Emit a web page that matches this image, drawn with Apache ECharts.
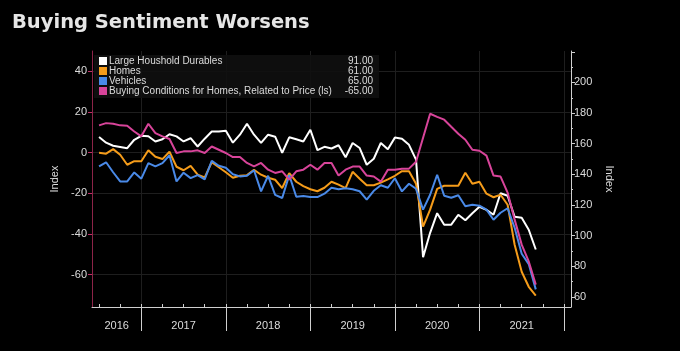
<!DOCTYPE html>
<html>
<head>
<meta charset="utf-8">
<script src="https://cdn.jsdelivr.net/npm/echarts@6/dist/echarts.min.js"></script>
<style>
    html, body { margin: 0; padding: 0; background: #000; }
    #sentimentDiv { width: 680px; height: 351px; }
</style>
</head>
<body>
<div id="sentimentDiv"></div>
<script>
// months shown on the axis: Jun 2016 .. Feb 2022
var monthList = [];
for (var yr = 2016; yr <= 2022; yr++) {
    for (var mo = 1; mo <= 12; mo++) {
        if (yr == 2016 && mo < 6) continue;
        if (yr == 2022 && mo > 2) break;
        monthList.push(yr + '-' + (mo < 10 ? '0' + mo : mo));
    }
}

// monthly readings, Jul 2016 .. Sep 2021
var durablesList = [164.4,160.7,158.7,157.9,157.1,162.6,165.2,164.9,161.5,162.9,
    166.2,164.8,161.5,163.6,158.2,163.3,168,168,168.5,160.7,
    165.9,173,165.9,160.5,165.9,164.6,154.1,164.2,162.9,161.5,
    169.1,155.8,158,156.9,159,151.2,160.5,157.2,146.3,150.2,
    160.5,156.4,164,163.3,159.3,149.6,86,101.9,114.7,107.2,
    107.2,113.7,110.1,114.7,118.9,116.9,113.7,127.7,126.1,112.4,
    111.7,103.9,91];
var homesList = [154.1,153.5,156.5,152.8,146.3,148.6,148.6,155.8,151.5,150,
    154.8,145,142.7,145.6,139.8,138.1,147.9,144.7,141.4,137.8,
    139.1,139.5,143,139.8,137.8,136.5,131.1,140.8,135.2,132.3,
    130.3,129,131.3,135.2,133.3,131.1,141.7,137.2,132.9,132.9,
    134.6,136.8,139.1,142.1,142.1,133.9,106,117,130.6,132.6,
    132.6,132.6,141.1,133.9,135.2,127.4,125.1,126.7,120.2,94.1,
    76.5,66.7,61];
var vehiclesList = [145.2,147.9,141.4,135.4,135.4,141.3,137.2,147.3,145.2,147.4,
    152.5,135.4,141.1,137.6,139.5,136.8,148.9,145.6,144.3,140.1,
    138.7,139.1,142.7,128.9,139.1,126.7,124.6,139.5,125.4,125.9,
    125.2,125.2,127.4,131.3,130.3,131,130.3,129,123.5,129.3,
    132.9,131.3,137.5,128.9,133.9,130.6,117,126.7,139.8,126.1,
    124.8,126.4,119.2,120.2,119.6,117,110.4,115,117.9,105.2,
    88.2,81.5,65];
var priceCondList = [13.4,14.5,14.2,13.4,13.2,10.4,8,14.2,9.6,8,
    6.7,-0.2,0.6,0.6,1.1,-0.2,3,1.4,-0.2,-2.2,
    -2.2,-5.1,-6.8,-5.1,-8.4,-10,-9.2,-13.3,-9.2,-8.4,
    -6,-8.4,-5.1,-5.1,-11.3,-8.4,-6.9,-6.9,-11.3,-11.8,
    -14.3,-8.4,-8.4,-7.9,-7.9,-4.5,7.3,19.1,17.6,16.2,
    12.7,9.3,6.3,1.4,0.9,-1.5,-11.3,-11.8,-19.7,-33,
    -45.3,-53.6,-65];

var seriesNames = ['Large Houshold Durables', 'Homes', 'Vehicles',
    'Buying Conditions for Homes, Related to Price (ls)'];
var lastValues = ['91.00', '61.00', '65.00', '-65.00'];

var leftTicks = [-60, -40, -20, 0, 20, 40];
var rightLabels = [60, 80, 100, 120, 140, 160, 180, 200];
var rightTicks = [60, 80, 100, 120, 140, 160, 180, 200, 220];
var rightMinorTicks = [70, 90, 110, 130, 150, 170, 190, 210];
var yearLabels = ['2016', '2017', '2018', '2019', '2020', '2021'];
var yearStarts = [0, 7, 19, 31, 43, 55];   // month index where each year begins on the axis
var yearEnds = [7, 19, 31, 43, 55, 67];

var yearCenters = [];
for (var i = 0; i < yearStarts.length; i++) {
    yearCenters.push((yearStarts[i] + yearEnds[i]) / 2);
}

function padData(list) {
    return [null].concat(list);
}

var textColor = '#dcdcdc';
var fontName = 'Liberation Sans';

var chartDiv = echarts.init(document.getElementById('sentimentDiv'));

var option = {
    backgroundColor: '#000',
    animation: false,
    title: {
        text: 'Buying Sentiment Worsens',
        left: 7,
        top: 8,
        textStyle: { color: '#e6e6e6', fontSize: 19.5, fontWeight: 'bold', fontFamily: 'DejaVu Sans' }
    },
    grid: { left: 92, right: 109, top: 51, bottom: 44 },
    legend: {
        data: seriesNames,
        orient: 'vertical',
        left: 94,
        top: 55,
        itemGap: 0,
        itemWidth: 8,
        itemHeight: 8,
        icon: 'rect',
        padding: [1, 6, 2, 5],
        backgroundColor: 'rgba(16,16,16,0.9)',
        formatter: function (name) {
            var idx = seriesNames.indexOf(name);
            return '{a|' + name + '}{b|' + lastValues[idx] + '}';
        },
        textStyle: {
            color: textColor,
            fontFamily: fontName,
            fontSize: 10,
            padding: [0, 0, 0, -3],
            rich: {
                a: { width: 232, fontSize: 10, lineHeight: 11, color: textColor, fontFamily: fontName },
                b: { width: 32, align: 'right', fontSize: 10, lineHeight: 11, color: textColor, fontFamily: fontName }
            }
        }
    },
    xAxis: [{
        type: 'category',
        data: monthList,
        boundaryGap: false,
        axisLine: { onZero: false, lineStyle: { color: '#cfcfcf', width: 1 } },
        axisTick: {
            inside: true,
            length: 3,
            interval: function (index) { return index % 3 == 1; },
            lineStyle: { color: '#cfcfcf' }
        },
        axisLabel: { show: false },
        splitLine: { show: false }
    }, {
        type: 'value',
        min: 0,
        max: monthList.length - 1,
        position: 'bottom',
        axisLine: { show: false, onZero: false },
        axisTick: {
            customValues: yearEnds,
            length: 24,
            lineStyle: { color: '#cfcfcf' }
        },
        axisLabel: {
            customValues: yearCenters,
            margin: 13,
            color: textColor,
            fontFamily: fontName,
            fontSize: 11,
            formatter: function (v) {
                return yearLabels[yearCenters.indexOf(v)];
            }
        },
        splitLine: { show: true, lineStyle: { color: '#1e1e1e' } }
    }],
    yAxis: [{
        type: 'value',
        position: 'left',
        min: -76,
        max: 50,
        name: 'Index',
        nameLocation: 'middle',
        nameGap: 17,
        nameTextStyle: { color: textColor, fontFamily: fontName, fontSize: 11 },
        axisLine: { show: true, lineStyle: { color: '#8c2448' } },
        axisTick: { show: true, customValues: leftTicks, length: 4, lineStyle: { color: '#c0306a' } },
        axisLabel: { customValues: leftTicks, color: textColor, fontFamily: fontName, fontSize: 11, margin: 5 },
        splitLine: { show: true, lineStyle: { color: '#1e1e1e' } }
    }, {
        type: 'value',
        position: 'right',
        min: 53.5,
        max: 220.5,
        name: 'Index',
        nameLocation: 'middle',
        nameGap: 21,
        nameRotate: -90,
        nameTextStyle: { color: textColor, fontFamily: fontName, fontSize: 11 },
        axisLine: { show: true, lineStyle: { color: '#cfcfcf' } },
        axisTick: { show: true, customValues: rightTicks, length: 4, lineStyle: { color: '#cfcfcf' } },
        axisLabel: { customValues: rightLabels, color: textColor, fontFamily: fontName, fontSize: 11, margin: 3 },
        splitLine: { show: false }
    }, {
        type: 'value',
        position: 'right',
        min: 53.5,
        max: 220.5,
        axisLine: { show: false },
        axisTick: { show: true, customValues: rightMinorTicks, length: 2, lineStyle: { color: '#cfcfcf' } },
        axisLabel: { show: false },
        splitLine: { show: false }
    }],
    series: [{
        name: seriesNames[0],
        type: 'line',
        yAxisIndex: 1,
        data: padData(durablesList),
        symbol: 'none',
        itemStyle: { color: '#ffffff' },
        lineStyle: { color: '#ffffff', width: 2 }
    }, {
        name: seriesNames[1],
        type: 'line',
        yAxisIndex: 1,
        data: padData(homesList),
        symbol: 'none',
        itemStyle: { color: '#f59c1a' },
        lineStyle: { color: '#f59c1a', width: 2 }
    }, {
        name: seriesNames[2],
        type: 'line',
        yAxisIndex: 1,
        data: padData(vehiclesList),
        symbol: 'none',
        itemStyle: { color: '#4a8ae8' },
        lineStyle: { color: '#4a8ae8', width: 2 }
    }, {
        name: seriesNames[3],
        type: 'line',
        yAxisIndex: 0,
        data: padData(priceCondList),
        symbol: 'none',
        itemStyle: { color: '#d8449a' },
        lineStyle: { color: '#d8449a', width: 2 }
    }]
};

chartDiv.setOption(option);
</script>
</body>
</html>
